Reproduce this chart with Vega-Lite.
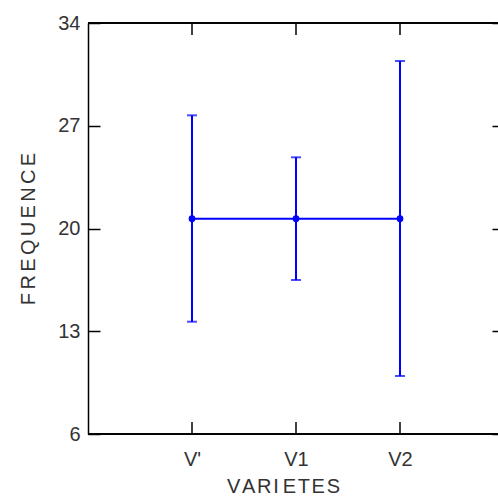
{
  "$schema": "https://vega.github.io/schema/vega-lite/v6.json",
  "width": 410,
  "height": 411,
  "autosize": {"type": "none"},
  "padding": {"left": 88, "top": 23, "right": 0, "bottom": 62},
  "background": "white",
  "config": {
    "view": {"stroke": null},
    "font": "Liberation Sans",
    "axis": {
      "grid": false,
      "ticks": true,
      "domainColor": "black",
      "domainWidth": 1.5,
      "tickColor": "black",
      "tickWidth": 1.5,
      "tickSize": -12,
      "labelFont": "Liberation Sans",
      "labelFontSize": 20,
      "labelColor": "#333333",
      "titleFont": "Liberation Sans",
      "titleFontSize": 20,
      "titleFontWeight": "normal",
      "titleColor": "#333333"
    }
  },
  "data": {
    "values": [
      {"variete": "V'", "moyenne": 20.67, "bas": 13.65, "haut": 27.71},
      {"variete": "V1", "moyenne": 20.67, "bas": 16.49, "haut": 24.85},
      {"variete": "V2", "moyenne": 20.67, "bas": 9.95, "haut": 31.41}
    ]
  },
  "layer": [
    {
      "mark": {"type": "rule", "color": "#0000ff", "strokeWidth": 2},
      "encoding": {
        "x": {
          "field": "variete",
          "type": "ordinal",
          "sort": null,
          "scale": {"type": "point", "domain": ["V'", "V1", "V2"], "range": [0, 416], "padding": 1},
          "axis": {
            "orient": "bottom",
            "domain": false,
            "ticks": false,
            "tickSize": 0,
            "title": "V\u200aA\u200aR\u200aI\u2009E\u200aT\u200aE\u200aS",
            "titleX": 195,
            "titleY": 52,
            "titleBaseline": "middle",
            "labelAngle": 0,
            "labelPadding": 15
          }
        },
        "y": {
          "field": "bas",
          "type": "quantitative",
          "scale": {"domain": [6, 34], "nice": false, "zero": false},
          "axis": {
            "orient": "left",
            "title": "F\u200a\u200aR\u200a\u200aE\u200a\u200aQ\u200a\u200aU\u200a\u200aE\u200a\u200aN\u200a\u200aC\u200a\u200aE",
            "values": [6, 13, 20, 27, 34],
            "labelPadding": 20,
            "titlePadding": 19
          }
        },
        "y2": {"field": "haut"}
      }
    },
    {
      "mark": {"type": "tick", "color": "#0000ff", "thickness": 2, "size": 10, "orient": "horizontal"},
      "encoding": {
        "x": {"field": "variete", "type": "ordinal", "sort": null, "axis": null},
        "y": {"field": "haut", "type": "quantitative", "axis": null}
      }
    },
    {
      "mark": {"type": "tick", "color": "#0000ff", "thickness": 2, "size": 10, "orient": "horizontal"},
      "encoding": {
        "x": {"field": "variete", "type": "ordinal", "sort": null, "axis": null},
        "y": {"field": "bas", "type": "quantitative", "axis": null}
      }
    },
    {
      "mark": {"type": "line", "color": "#0000ff", "strokeWidth": 2},
      "encoding": {
        "x": {"field": "variete", "type": "ordinal", "sort": null, "axis": null},
        "y": {"field": "moyenne", "type": "quantitative", "axis": null}
      }
    },
    {
      "mark": {"type": "point", "shape": "circle", "filled": true, "color": "#0000ff", "opacity": 1, "size": 45},
      "encoding": {
        "x": {"field": "variete", "type": "ordinal", "sort": null, "axis": null},
        "y": {"field": "moyenne", "type": "quantitative", "axis": null}
      }
    },
    {
      "mark": {"type": "rule", "opacity": 0},
      "encoding": {
        "x": {"field": "variete", "type": "ordinal", "sort": null, "axis": null},
        "y": {
          "field": "moyenne",
          "type": "quantitative",
          "axis": {"orient": "right", "labels": false, "title": null, "values": [6, 13, 20, 27, 34], "offset": 6}
        }
      }
    },
    {
      "mark": {"type": "rule", "color": "black", "strokeWidth": 1.5},
      "encoding": {"y": {"datum": 6, "type": "quantitative", "axis": null}}
    },
    {
      "mark": {"type": "rule", "color": "black", "strokeWidth": 1.5},
      "encoding": {"y": {"datum": 34, "type": "quantitative", "axis": null}}
    },
    {
      "mark": {"type": "rule", "color": "black", "strokeWidth": 1.5},
      "encoding": {
        "x": {"field": "variete", "type": "ordinal", "sort": null, "axis": null},
        "y": {"datum": 6, "type": "quantitative", "axis": null},
        "y2": {"datum": 6.82}
      }
    },
    {
      "mark": {"type": "rule", "color": "black", "strokeWidth": 1.5},
      "encoding": {
        "x": {"field": "variete", "type": "ordinal", "sort": null, "axis": null},
        "y": {"datum": 34, "type": "quantitative", "axis": null},
        "y2": {"datum": 33.18}
      }
    }
  ],
  "resolve": {"axis": {"x": "independent", "y": "independent"}}
}
